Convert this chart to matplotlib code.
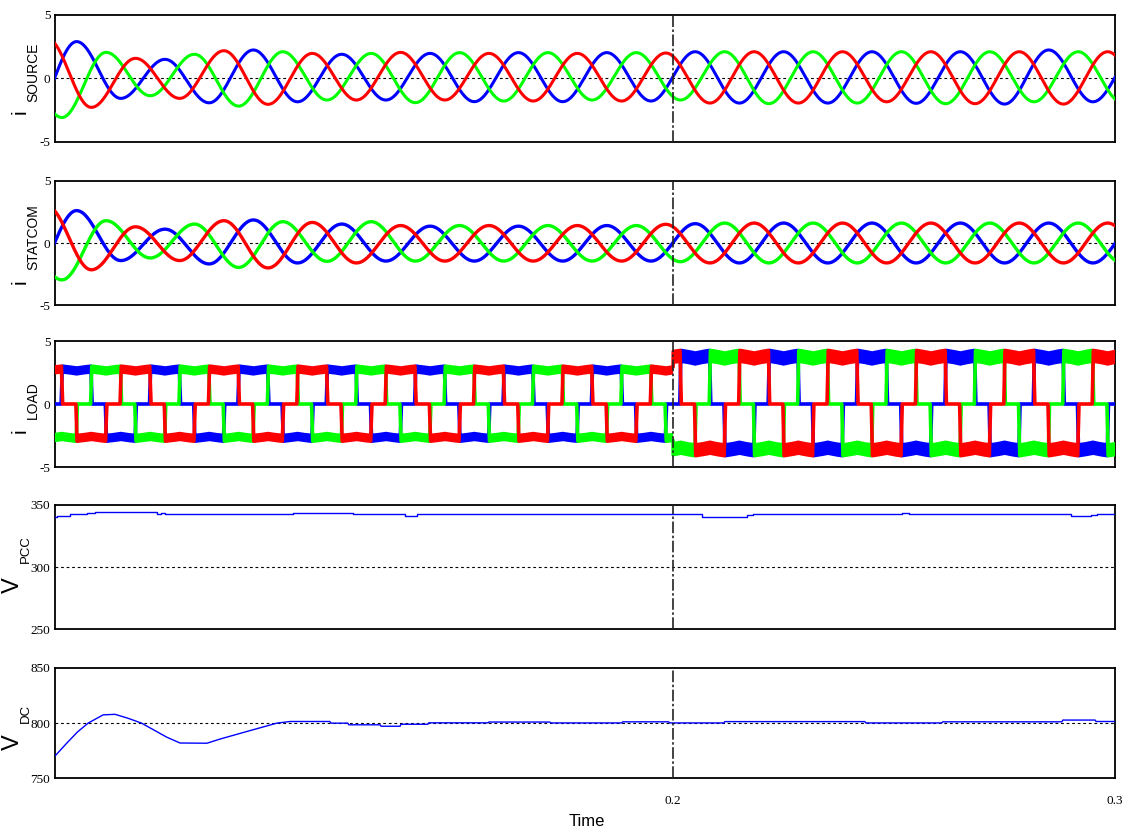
import numpy as np
import matplotlib
matplotlib.use('Agg')
import matplotlib.pyplot as plt

F_GRID = 50.0
T_START, T_END = 0.06, 0.30

# Successive half-cycle extremes of each phase current (A); the first entry of
# each list sits half a cycle before the start of the record.
SRC_A_T0, SRC_B_T0, SRC_C_T0 = 0.055, 0.05167, 0.05833
SRC_A = [-2.9, 2.9, -1.58, 1.5, -1.93, 2.24, -1.85, 1.9, -1.71, 1.97, -1.84, 2.03, -1.84,
         2.03, -1.79, 2.1, -1.95, 2.1, -1.95, 2.1, -1.97, 2.1, -2.03, 2.24, -1.85, 2.0]
SRC_B = [1.5, -3.09, 2.05, -1.37, 1.9, -2.19, 2.1, -1.71, 1.97, -1.92, 2.03, -1.79, 2.03,
         -1.71, 2.03, -1.71, 2.1, -2.0, 2.1, -1.95, 2.1, -2.0, 2.1, -1.85, 2.1, -1.9]
SRC_C = [3.16, -2.29, 1.58, -1.58, 2.18, -2.05, 1.97, -1.71, 2.05, -1.71, 1.97, -1.79, 1.97,
         -1.79, 2.0, -1.95, 2.1, -1.95, 2.1, -1.85, 2.1, -2.0, 2.1, -2.03, 2.1, -2.0]

STC_A = [-2.6, 2.6, -1.41, 1.11, -1.68, 1.85, -1.6, 1.52, -1.45, 1.35, -1.45, 1.35, -1.45,
         1.4, -1.45, 1.55, -1.6, 1.6, -1.6, 1.6, -1.6, 1.6, -1.6, 1.6, -1.6, 1.5]
STC_B = [1.0, -2.96, 1.79, -1.2, 1.52, -1.96, 1.71, -1.47, 1.71, -1.45, 1.4, -1.45, 1.4,
         -1.45, 1.4, -1.5, 1.6, -1.6, 1.6, -1.6, 1.6, -1.6, 1.6, -1.6, 1.6, -1.6]
STC_C = [2.94, -2.15, 1.3, -1.41, 1.79, -2.0, 1.65, -1.6, 1.4, -1.45, 1.4, -1.45, 1.4,
         -1.45, 1.5, -1.6, 1.6, -1.6, 1.6, -1.6, 1.6, -1.6, 1.6, -1.6, 1.6, -1.6]

# Six-pulse rectifier load current: per-unit pulse over one cycle and levels
LOAD_SHAPE_DEG = [0, 27, 32, 60, 90, 120, 148, 153, 207, 212, 240, 270, 300, 328, 333, 360]
LOAD_SHAPE_PU = [0, 0, 1, 0.98, 0.95, 0.98, 1, 0, 0, -1, -0.98, -0.95, -0.98, -1, 0, 0]
LOAD_STEP_T = 0.2
LOAD_POS = [3.0, 4.25]
LOAD_NEG = [2.95, 4.1]
LOAD_RIPPLE = [0.6, 1.0]   # depth of the switching-ripple band on each plateau (A)

# PCC voltage (V), piecewise constant
VPCC_T = [0.0600, 0.0606, 0.0635, 0.0674, 0.0692, 0.0832, 0.0840, 0.0850, 0.0857, 0.1140,
          0.1276, 0.1307, 0.1393, 0.1420, 0.1998, 0.2003, 0.2065, 0.2167, 0.2180, 0.2517,
          0.2533, 0.2900, 0.2946, 0.2960, 0.3000]
VPCC_V = [339.8, 340.9, 342.2, 343.0, 343.8, 342.6, 343.4, 342.4, 342.2, 343.1,
          342.5, 342.2, 341.2, 342.2, 342.9, 342.2, 340.5, 341.4, 342.2, 343.4,
          342.2, 340.9, 341.8, 342.2, 342.2]

# DC link voltage (V)
VDC_T = [0.0600, 0.0628, 0.0652, 0.0676, 0.0710, 0.0737, 0.0766, 0.0797, 0.0854, 0.0884,
         0.0945, 0.0974, 0.1035, 0.1103, 0.1133, 0.1223, 0.1226, 0.1264, 0.1266, 0.1337,
         0.1339, 0.1382, 0.1384, 0.1445, 0.1447, 0.1581, 0.1583, 0.1721, 0.1723, 0.1884,
         0.1886, 0.1990, 0.1992, 0.2115, 0.2117, 0.2434, 0.2436, 0.2608, 0.2610, 0.2880,
         0.2882, 0.2955, 0.2957, 0.3000]
VDC_V = [769.7, 782.0, 792.0, 800.0, 807.5, 808.0, 804.5, 800.0, 787.3, 782.0,
         781.8, 785.5, 792.4, 800.0, 801.5, 801.5, 800.0, 800.0, 798.5, 798.5,
         797.2, 797.2, 799.0, 799.0, 800.3, 800.3, 801.0, 801.0, 800.2, 800.2,
         801.2, 801.2, 800.2, 800.2, 801.4, 801.4, 800.2, 800.2, 801.2, 801.2,
         802.8, 802.8, 801.5, 801.5]

PHASE_COLORS = ['#0000ff', '#00ff00', '#ff0000']
W, H = 1134, 833


def halfwave(t, t0, ext):
    ext = np.asarray(ext, float)
    tk = t0 + np.arange(len(ext)) / (2 * F_GRID)
    i = np.clip(np.searchsorted(tk, t, side='right') - 1, 0, len(ext) - 2)
    frac = (t - tk[i]) * 2 * F_GRID
    return 0.5 * (ext[i] + ext[i + 1]) + 0.5 * (ext[i] - ext[i + 1]) * np.cos(np.pi * frac)


def load_pu(t, shift_deg):
    theta = (360 * F_GRID * t + shift_deg) % 360
    return np.interp(theta, LOAD_SHAPE_DEG, LOAD_SHAPE_PU)


def load_current(t, pu):
    after = t >= LOAD_STEP_T
    level = np.where(pu >= 0,
                     np.where(after, LOAD_POS[1], LOAD_POS[0]),
                     np.where(after, LOAD_NEG[1], LOAD_NEG[0]))
    return pu * level


def px_axes(top, bottom, left=54.5, right=1115):
    return [left / W, 1 - bottom / H, (right - left) / W, (bottom - top) / H]


tick_font = {'family': ['Liberation Serif', 'DejaVu Serif'], 'size': 9.5}
label_fam = ['Liberation Sans Narrow', 'Liberation Sans', 'DejaVu Sans']

fig = plt.figure(figsize=(W / 100, H / 100), dpi=100)
boxes = [(15, 141.7), (180.7, 305.3), (341, 467), (504.7, 629.3), (668, 778.3)]
axes = [fig.add_axes(px_axes(*b)) for b in boxes]

t = np.linspace(T_START, T_END, 24001)
tl = np.linspace(T_START, T_END, 96001)

ax = axes[0]
for t0, ext, c in zip([SRC_A_T0, SRC_B_T0, SRC_C_T0], [SRC_A, SRC_B, SRC_C], PHASE_COLORS):
    ax.plot(t, halfwave(t, t0, ext), color=c, lw=2.2, zorder=3)

ax = axes[1]
for t0, ext, c in zip([SRC_A_T0, SRC_B_T0, SRC_C_T0], [STC_A, STC_B, STC_C], PHASE_COLORS):
    ax.plot(t, halfwave(t, t0, ext), color=c, lw=2.4, zorder=3)

ax = axes[2]
ripple = np.where(tl >= LOAD_STEP_T, LOAD_RIPPLE[1], LOAD_RIPPLE[0])
for shift, c in zip([0, -120, 120], PHASE_COLORS):
    pu = load_pu(tl, shift)
    y = load_current(tl, pu)
    ax.fill_between(tl, y, y - np.sign(y) * ripple, where=np.abs(pu) > 0.5,
                    color=c, lw=0, zorder=3)
    ax.plot(tl, y, color=c, lw=2.6, zorder=3)

axes[3].plot(VPCC_T, VPCC_V, color='#0000ff', lw=1.0, drawstyle='steps-post', zorder=3)
axes[4].plot(VDC_T, VDC_V, color='#0000ff', lw=1.0, zorder=3)

ylims = [(-5, 5), (-5, 5), (-5, 5), (250, 350), (750, 850)]
for ax, (lo, hi) in zip(axes, ylims):
    mid = 0.5 * (lo + hi)
    ax.set_xlim(T_START, T_END)
    ax.set_ylim(lo, hi)
    ax.set_yticks([lo, mid, hi])
    ax.set_yticklabels([f'{v:g}' for v in (lo, mid, hi)], fontdict=tick_font)
    ax.axhline(mid, color='black', lw=0.8, ls=(0, (2.5, 2.5)), zorder=1)
    ax.axvline(0.2, color='#222222', lw=1.2, ls=(0, (7, 1.5, 1.5, 1.5)), zorder=4)
    ax.tick_params(length=0, pad=3)
    for s in ax.spines.values():
        s.set_linewidth(1.3)
    ax.set_xticks([0.2, 0.3])
    if ax is not axes[-1]:
        ax.set_xticklabels([])
    else:
        ax.set_xticklabels(['0.2', '0.3'], fontdict=tick_font)
        ax.tick_params(axis='x', pad=12)


def fig_text(x, y, s, size):
    fig.text(x / W, 1 - y / H, s, rotation=90, ha='center', va='center',
             fontsize=size, family=label_fam)


fig_text(20, 112, 'i', 15)
fig_text(33, 72, 'SOURCE', 10)
fig_text(20, 282, 'i', 15)
fig_text(33, 237, 'STATCOM', 10)
fig_text(20, 431, 'i', 15)
fig_text(33, 400, 'LOAD', 10)
fig_text(13, 585, 'V', 17)
fig_text(26, 549, 'PCC', 9.5)
fig_text(13, 742, 'V', 17)
fig_text(26, 713, 'DC', 9.5)
fig.text(587 / W, 1 - 822 / H, 'Time', ha='center', va='center', fontsize=12, family=label_fam)

fig.savefig('out.png', dpi=100)
